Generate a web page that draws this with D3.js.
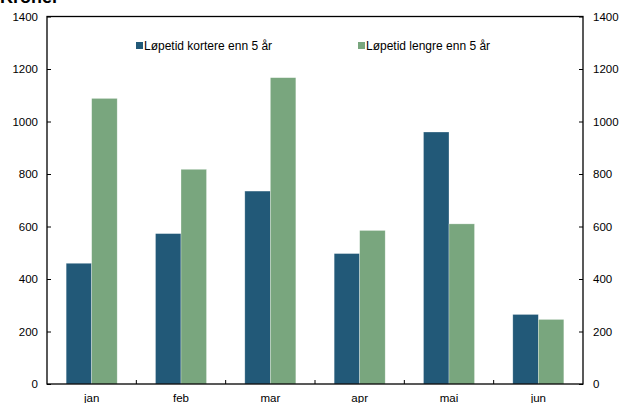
<!DOCTYPE html>
<html>
<head>
<meta charset="utf-8">
<script src="https://cdn.jsdelivr.net/npm/d3@7"></script>
<style>
body { margin: 0; background: #fff; }
text { font-family: "Liberation Sans", Arial, sans-serif; fill: #000; }
.tick-label { font-size: 11.5px; }
.legend-text { font-size: 12px; }
</style>
</head>
<body>
<svg id="chart" width="619" height="403"></svg>
<script>
// data
var months = ["jan", "feb", "mar", "apr", "mai", "jun"];
var shortTerm = [460, 573, 735, 497, 960, 265];
var longTerm = [1088, 818, 1167, 585, 610, 246];
var seriesNames = ["Løpetid kortere enn 5 år", "Løpetid lengre enn 5 år"];
var yTicks = [0, 200, 400, 600, 800, 1000, 1200, 1400];

var colors = ["#225978", "#79a67e"];
var margin = {top: 16.5, right: 36, bottom: 19, left: 47};
var width = 619, height = 403;

var svg = d3.select("#chart");

var x = d3.scaleBand()
	.domain(months)
	.range([margin.left, width - margin.right])
	.paddingInner(0)
	.paddingOuter(0);

var xInner = d3.scaleBand()
	.domain([0, 1])
	.range([0, x.bandwidth()])
	.paddingInner(0)
	.paddingOuter(0.75);

var y = d3.scaleLinear()
	.domain([0, 1400])
	.range([height - margin.bottom, margin.top]);

// bars
var groups = svg.append("g").selectAll("g")
	.data(months)
	.enter().append("g")
	.attr("transform", function(d) { return "translate(" + x(d) + ",0)"; });

groups.selectAll("rect")
	.data(function(d, i) { return [shortTerm[i], longTerm[i]]; })
	.enter().append("rect")
	.attr("x", function(d, j) { return xInner(j); })
	.attr("y", function(d) { return y(d); })
	.attr("width", xInner.bandwidth())
	.attr("height", function(d) { return y(0) - y(d); })
	.attr("fill", function(d, j) { return colors[j]; })
	.attr("stroke", "rgba(255,255,255,0.5)")
	.attr("stroke-width", 0.6);

// frame
svg.append("rect")
	.attr("x", margin.left)
	.attr("y", margin.top)
	.attr("width", width - margin.right - margin.left)
	.attr("height", y(0) - margin.top)
	.attr("fill", "none")
	.attr("stroke", "#000")
	.attr("stroke-width", 1.3);

// left axis
var leftAxis = svg.append("g")
	.attr("transform", "translate(" + margin.left + ",0)")
	.call(d3.axisLeft(y).tickValues(yTicks).tickSize(-4).tickPadding(9).tickFormat(d3.format("d")));
leftAxis.select(".domain").remove();
leftAxis.selectAll("line").attr("stroke", "#000").attr("stroke-width", 1);
leftAxis.selectAll("text").attr("class", "tick-label").attr("font-size", null).attr("font-family", null);

// right axis
var rightAxis = svg.append("g")
	.attr("transform", "translate(" + (width - margin.right) + ",0)")
	.call(d3.axisRight(y).tickValues(yTicks).tickSize(-4).tickPadding(10).tickFormat(d3.format("d")));
rightAxis.select(".domain").remove();
rightAxis.selectAll("line").attr("stroke", "#000").attr("stroke-width", 1);
rightAxis.selectAll("text").attr("class", "tick-label").attr("font-size", null).attr("font-family", null);

// bottom ticks at band boundaries
var boundaries = months.slice(1).map(function(m) { return x(m); });
svg.append("g").selectAll("line")
	.data(boundaries)
	.enter().append("line")
	.attr("x1", function(d) { return d; })
	.attr("x2", function(d) { return d; })
	.attr("y1", y(0))
	.attr("y2", y(0) - 4)
	.attr("stroke", "#000");

// month labels
svg.append("g").selectAll("text")
	.data(months)
	.enter().append("text")
	.attr("class", "tick-label")
	.attr("x", function(d) { return x(d) + x.bandwidth() / 2; })
	.attr("y", y(0) + 18)
	.attr("text-anchor", "middle")
	.text(function(d) { return d; });

// legend
var legendPos = [136, 358];
var legend = svg.append("g").selectAll("g")
	.data(seriesNames)
	.enter().append("g")
	.attr("transform", function(d, i) { return "translate(" + legendPos[i] + ",42)"; });
legend.append("rect")
	.attr("width", 7)
	.attr("height", 7)
	.attr("y", 0)
	.attr("fill", function(d, i) { return colors[i]; });
legend.append("text")
	.attr("class", "legend-text")
	.attr("x", 8)
	.attr("y", 7.5)
	.text(function(d) { return d; });

// title (cut off at the top)
svg.append("text")
	.attr("x", 0)
	.attr("y", 3)
	.attr("font-size", "18px")
	.attr("font-weight", "bold")
	.text("Kroner");
</script>
</body>
</html>
